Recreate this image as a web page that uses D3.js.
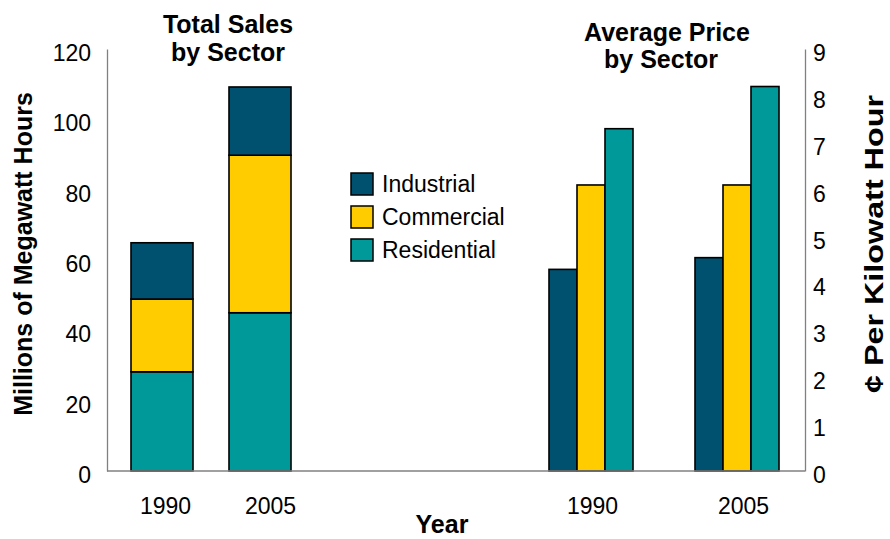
<!DOCTYPE html>
<html>
<head>
<meta charset="utf-8">
<script src="https://cdn.jsdelivr.net/npm/d3@7"></script>
<style>
  html, body { margin: 0; padding: 0; background: #fff; }
  svg { display: block; font-family: "Liberation Sans", Arial, sans-serif; }
</style>
</head>
<body>
<svg id="chart" width="890" height="539"></svg>
<script>
// Electricity sales and prices by sector
const years = ["1990", "2005"];
const sectors = ["Industrial", "Commercial", "Residential"];
const sectorColors = ["#00506F", "#FFCC00", "#009999"];

// Total sales, millions of MWh
const salesIndustrial = [16.0, 19.4];
const salesCommercial = [20.7, 44.8];
const salesResidential = [28.2, 45.0];

// Average price, cents per kWh
const priceIndustrial = [4.3, 4.55];
const priceCommercial = [6.1, 6.1];
const priceResidential = [7.3, 8.2];

const salesTicks = [0, 20, 40, 60, 80, 100, 120];
const priceTicks = [0, 1, 2, 3, 4, 5, 6, 7, 8, 9];

const svg = d3.select("#chart");
const baseY = 471, topY = 49;
const leftAxisX = 107, rightAxisX = 805;
const fontStack = "'Liberation Sans', Arial, sans-serif";

const ySales = d3.scaleLinear().domain([0, 120]).range([baseY, topY]);
const yPrice = d3.scaleLinear().domain([0, 9]).range([baseY, topY]);

// Category positions for the two panels
const xSales = d3.scalePoint().domain(years).range([162, 260]);
const xSalesLabel = d3.scalePoint().domain(years).range([165, 270]);
const xPrice = d3.scalePoint().domain(years).range([591, 737]);
const xPriceLabel = d3.scalePoint().domain(years).range([592, 743]);
const xSector = d3.scaleBand().domain(sectors).range([-42, 42]).padding(0);
const salesBarW = 62;

const color = d3.scaleOrdinal().domain(sectors).range(sectorColors);

// Stacked sales bars
const salesRows = years.map((y, i) => ({
  year: y,
  Residential: salesResidential[i],
  Commercial: salesCommercial[i],
  Industrial: salesIndustrial[i]
}));
const stack = d3.stack().keys(["Residential", "Commercial", "Industrial"]);
const layers = stack(salesRows);

svg.append("g").selectAll("g")
  .data(layers).join("g")
  .attr("fill", d => color(d.key))
  .selectAll("rect")
  .data(d => d).join("rect")
  .attr("x", d => xSales(d.data.year) - salesBarW / 2)
  .attr("width", salesBarW)
  .attr("y", d => ySales(d[1]))
  .attr("height", d => ySales(d[0]) - ySales(d[1]))
  .attr("stroke", "#000")
  .attr("stroke-width", 1.6);

// Clustered price bars
const priceSeries = {
  Industrial: priceIndustrial,
  Commercial: priceCommercial,
  Residential: priceResidential
};
const priceRows = [];
years.forEach((y, i) => sectors.forEach(s => priceRows.push({ year: y, sector: s, value: priceSeries[s][i] })));

svg.append("g").selectAll("rect")
  .data(priceRows).join("rect")
  .attr("x", d => xPrice(d.year) + xSector(d.sector))
  .attr("width", xSector.bandwidth())
  .attr("y", d => yPrice(d.value))
  .attr("height", d => baseY - yPrice(d.value))
  .attr("fill", d => color(d.sector))
  .attr("stroke", "#000")
  .attr("stroke-width", 1.6);

// Axes
const axisGrey = "#808080";
const leftAxis = svg.append("g")
  .attr("transform", `translate(${leftAxisX},0)`)
  .call(d3.axisLeft(ySales).tickValues(salesTicks).tickSize(0).tickSizeOuter(0).tickPadding(16));
const rightAxis = svg.append("g")
  .attr("transform", `translate(${rightAxisX},0)`)
  .call(d3.axisRight(yPrice).tickValues(priceTicks).tickSize(0).tickSizeOuter(0).tickPadding(8));
[leftAxis, rightAxis].forEach(g => {
  g.select(".domain").attr("stroke", axisGrey).attr("stroke-width", 1.3);
  g.selectAll("text").attr("font-size", 23).attr("fill", "#000").attr("dy", "0.5em")
    .attr("font-family", fontStack);
});

svg.append("line")
  .attr("x1", leftAxisX).attr("x2", rightAxisX)
  .attr("y1", baseY).attr("y2", baseY)
  .attr("stroke", axisGrey).attr("stroke-width", 1.6);

// Year labels
[xSalesLabel, xPriceLabel].forEach(sc => {
  const g = svg.append("g")
    .attr("transform", `translate(0,${baseY + 27})`)
    .call(d3.axisBottom(sc).tickSize(0).tickPadding(0));
  g.select(".domain").remove();
  g.selectAll("text").attr("font-size", 23).attr("fill", "#000").attr("dy", "0.71em")
    .attr("font-family", fontStack);
});

// Titles
const bold = (x, y, str, size, anchor = "middle") => svg.append("text")
  .attr("x", x).attr("y", y).attr("text-anchor", anchor)
  .attr("font-size", size).attr("font-weight", "bold").text(str);

bold(228, 33, "Total Sales", 25);
bold(228, 61, "by Sector", 25);
bold(667, 41, "Average Price", 25);
bold(661, 68, "by Sector", 25);
bold(442, 533, "Year", 25);

svg.append("text")
  .attr("transform", "translate(32,254) rotate(-90)")
  .attr("text-anchor", "middle").attr("font-size", 25).attr("font-weight", "bold")
  .text("Millions of Megawatt Hours");
svg.append("text")
  .attr("transform", "translate(883,244) rotate(-90)")
  .attr("text-anchor", "middle").attr("font-size", 26).attr("font-weight", "bold")
  .attr("textLength", 298).attr("lengthAdjust", "spacingAndGlyphs")
  .text("¢ Per Kilowatt Hour");

// Legend
const legend = svg.append("g").attr("transform", "translate(351,173)");
const legendItems = legend.selectAll("g").data(sectors).join("g")
  .attr("transform", (d, i) => `translate(0,${i * 33})`);
legendItems.append("rect")
  .attr("width", 22).attr("height", 22)
  .attr("fill", d => color(d)).attr("stroke", "#000").attr("stroke-width", 1.5);
legendItems.append("text")
  .attr("x", 31).attr("y", 11).attr("dy", "0.36em")
  .attr("font-size", 23).text(d => d);
</script>
</body>
</html>
